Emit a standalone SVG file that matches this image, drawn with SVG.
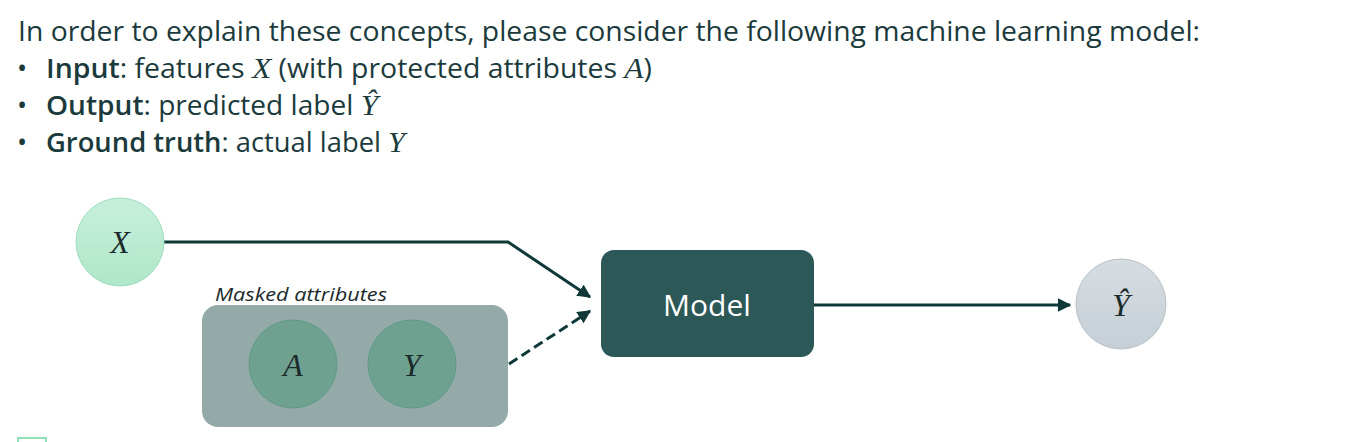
<svg xmlns="http://www.w3.org/2000/svg" width="1364" height="442" viewBox="0 0 1364 442">
<style>
.t{font-family:"Open Sans","Noto Sans",sans-serif;font-size:27px;fill:#1b3a3c}
.b{font-weight:600}
.m{font-family:"Liberation Serif",serif;font-style:italic;font-size:30px}
.lbl{font-family:"Liberation Serif",serif;font-style:italic;font-size:32px;fill:#1b2a2a;text-anchor:middle}
.conn{stroke:#0f3838;stroke-width:3;fill:none}
</style>
<defs>
<linearGradient id="gx" x1="0" y1="0" x2="0" y2="1"><stop offset="0" stop-color="#c8f0dc"/><stop offset="1" stop-color="#aee7c9"/></linearGradient>
<linearGradient id="gy" x1="0" y1="0" x2="0" y2="1"><stop offset="0" stop-color="#d6dde2"/><stop offset="1" stop-color="#c6cfd6"/></linearGradient>
<marker id="ah" viewBox="0 0 10 10" refX="9" refY="5" markerWidth="4.5" markerHeight="4.5" orient="auto" markerUnits="strokeWidth"><path d="M0,0 L10,5 L0,10 z" fill="#0f3838"/></marker>
</defs>
<g id="text">
<text class="t" x="18" y="41" textLength="1182" lengthAdjust="spacingAndGlyphs">In order to explain these concepts, please consider the following machine learning model:</text>
<text class="t" x="17" y="78">•</text>
<text class="t" x="46" y="78" textLength="606" lengthAdjust="spacingAndGlyphs"><tspan class="b">Input</tspan>: features <tspan class="m">X</tspan> (with protected attributes <tspan class="m">A</tspan>)</text>
<text class="t" x="17" y="115">•</text>
<text class="t" x="46" y="115" textLength="332" lengthAdjust="spacingAndGlyphs"><tspan class="b">Output</tspan>: predicted label <tspan class="m">Ŷ</tspan></text>
<text class="t" x="17" y="152">•</text>
<text class="t" x="46" y="152" textLength="359" lengthAdjust="spacingAndGlyphs"><tspan class="b">Ground truth</tspan>: actual label <tspan class="m">Y</tspan></text>
</g>
<g id="connectors">
<polyline class="conn" points="164,242 508,242 590,297" marker-end="url(#ah)"/>
<line class="conn" x1="509" y1="364" x2="590" y2="311" stroke-dasharray="10,5" marker-end="url(#ah)"/>
<line class="conn" x1="814" y1="305" x2="1070" y2="305" marker-end="url(#ah)"/>
</g>
<g id="node-x">
<circle cx="120" cy="242" r="44" fill="url(#gx)" stroke="#9cdcbc" stroke-width="1"/>
<text class="lbl" x="120" y="253">X</text>
</g>
<g id="masked">
<text x="215" y="301" font-family="Open Sans, sans-serif" font-style="italic" font-size="18" fill="#1b2a2a" textLength="172" lengthAdjust="spacingAndGlyphs">Masked attributes</text>
<rect x="202" y="305" width="306" height="122" rx="16" fill="#94aaa9"/>
</g>
<g id="node-a">
<circle cx="293" cy="364" r="44" fill="#6ea190" stroke="#619a86" stroke-width="1"/>
<text class="lbl" x="293" y="376">A</text>
</g>
<g id="node-y">
<circle cx="412" cy="364" r="44" fill="#6ea190" stroke="#619a86" stroke-width="1"/>
<text class="lbl" x="412" y="376">Y</text>
</g>
<g id="node-model">
<rect x="601" y="250" width="213" height="107" rx="13" fill="#2c5858"/>
<text x="707" y="316" font-family="Open Sans, sans-serif" font-size="30" fill="#ffffff" text-anchor="middle">Model</text>
</g>
<g id="node-yhat">
<circle cx="1121" cy="304" r="45" fill="url(#gy)" stroke="#b6c1c8" stroke-width="1"/>
<text class="lbl" x="1121" y="316">Ŷ</text>
</g>
<rect x="18" y="438" width="28" height="20" fill="none" stroke="#8ee2b2" stroke-width="2"/>
</svg>
